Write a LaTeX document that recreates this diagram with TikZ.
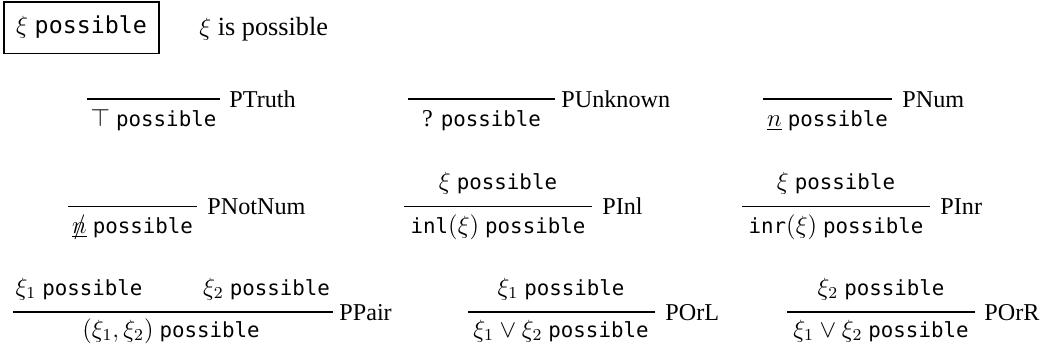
\documentclass[tikz,border=0pt]{standalone}
\usepackage{fontspec}
\setmainfont{Liberation Serif}
\setmonofont{DejaVu Sans Mono}[Scale=0.86]
\usetikzlibrary{positioning}

\newcommand{\poss}{\texttt{possible}}
\newcommand{\notnum}{\ooalign{$\underline{n}$\cr\hidewidth$/$\hidewidth\cr}}

\tikzset{
  judg/.style={inner sep=0pt, anchor=base},
  rulebar/.style={line width=0.7pt},
  rulename/.style={inner sep=0pt, anchor=base west},
  defbox/.style={draw, line width=0.5pt, minimum width=74.4pt, minimum height=24.5pt,
    font=\fontsize{13}{15}\selectfont}
}

\begin{document}
\begin{tikzpicture}[x=0.48pt, y=-0.48pt, font=\fontsize{11.6}{14}\selectfont]
\useasboundingbox (0,0) rectangle (1049,351);

% judgement form
\node[defbox] (form) at (81.5,27.5) {$\xi$ \poss};
\node[rulename, font=\fontsize{12.6}{15}\selectfont] (formtext) at (199,35) {$\xi$ is possible};

% row 1
\coordinate (ptruth-l) at (87,99);
\coordinate (ptruth-r) at (220,99);
\draw[rulebar] (ptruth-l) -- (ptruth-r);
\node[judg] (ptruth-c) at (153.5,126) {$\top$ \poss};
\node[rulename] (ptruth) at (229,107) {PTruth};

\coordinate (punknown-l) at (408,99);
\coordinate (punknown-r) at (555,99);
\draw[rulebar] (punknown-l) -- (punknown-r);
\node[judg] (punknown-c) at (481.5,126) {? \poss};
\node[rulename] (punknown) at (561,107) {PUnknown};

\coordinate (pnum-l) at (763,99);
\coordinate (pnum-r) at (892,99);
\draw[rulebar] (pnum-l) -- (pnum-r);
\node[judg] (pnum-c) at (827.5,126) {$\underline{n}$ \poss};
\node[rulename] (pnum) at (902,107) {PNum};

% row 2
\coordinate (pnotnum-l) at (68,206.5);
\coordinate (pnotnum-r) at (197,206.5);
\draw[rulebar] (pnotnum-l) -- (pnotnum-r);
\node[judg] (pnotnum-c) at (132.5,233) {\notnum\ \poss};
\node[rulename] (pnotnum) at (207,214.5) {PNotNum};

\coordinate (pinl-l) at (404,206.5);
\coordinate (pinl-r) at (592,206.5);
\draw[rulebar] (pinl-l) -- (pinl-r);
\node[judg] (pinl-p) at (498,189) {$\xi$ \poss};
\node[judg] (pinl-c) at (498,233) {\texttt{inl}$(\xi)$ \poss};
\node[rulename] (pinl) at (602,214.5) {PInl};

\coordinate (pinr-l) at (742,206.5);
\coordinate (pinr-r) at (930,206.5);
\draw[rulebar] (pinr-l) -- (pinr-r);
\node[judg] (pinr-p) at (836,189) {$\xi$ \poss};
\node[judg] (pinr-c) at (836,233) {\texttt{inr}$(\xi)$ \poss};
\node[rulename] (pinr) at (940,214.5) {PInr};

% row 3
\coordinate (ppair-l) at (13,312);
\coordinate (ppair-r) at (333,312);
\draw[rulebar] (ppair-l) -- (ppair-r);
\node[judg] (ppair-p1) at (79,295) {$\xi_1$ \poss};
\node[judg] (ppair-p2) at (266.5,295) {$\xi_2$ \poss};
\node[judg] (ppair-c) at (171,337) {$(\xi_1, \xi_2)$ \poss};
\node[rulename] (ppair) at (339,320) {PPair};

\coordinate (porl-l) at (468,312);
\coordinate (porl-r) at (655,312);
\draw[rulebar] (porl-l) -- (porl-r);
\node[judg] (porl-p) at (561,295) {$\xi_1$ \poss};
\node[judg] (porl-c) at (561,337) {$\xi_1 \vee \xi_2$ \poss};
\node[rulename] (porl) at (665,320) {POrL};

\coordinate (porr-l) at (787,312);
\coordinate (porr-r) at (975,312);
\draw[rulebar] (porr-l) -- (porr-r);
\node[judg] (porr-p) at (881,295) {$\xi_2$ \poss};
\node[judg] (porr-c) at (881,337) {$\xi_1 \vee \xi_2$ \poss};
\node[rulename] (porr) at (984,320) {POrR};

\end{tikzpicture}
\end{document}
